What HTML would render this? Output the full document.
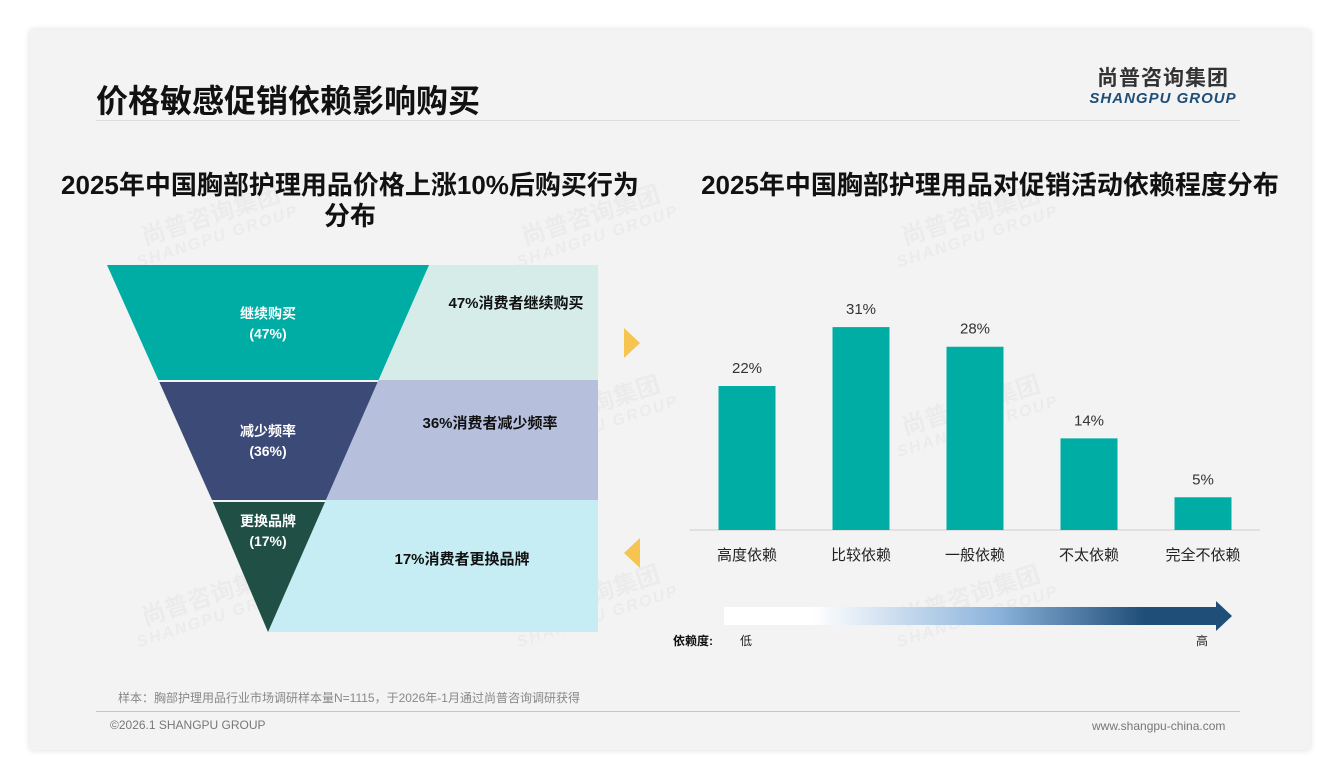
<!DOCTYPE html>
<html><head><meta charset="utf-8"><style>
body{margin:0;width:1340px;height:780px;background:#fff;font-family:"Liberation Sans","Noto Sans CJK SC",sans-serif;overflow:hidden}
#card{position:absolute;left:30px;top:30px;width:1280px;height:720px;background:#f3f3f3;box-shadow:0 0 6px rgba(0,0,0,.15)}
.abs{position:absolute}
.wm{position:absolute;color:rgba(0,0,0,.03);font-weight:bold;transform:rotate(-18deg);font-size:24px;line-height:22px;text-align:center}
.wm span{display:block;font-size:16px;font-style:italic;letter-spacing:2px}
</style></head><body>
<div id="card"></div>
<div class="abs" style="left:96px;top:76px;font-size:32px;font-weight:bold;color:#111">价格敏感促销依赖影响购买</div>
<div class="abs" style="left:96px;top:120px;width:1144px;height:1px;background:#ddd"></div>
<div class="abs" style="left:1084px;top:62px;width:158px;text-align:center;color:#333">
 <div style="font-size:21px;font-weight:bold;letter-spacing:1px">尚普咨询集团</div>
 <div style="font-size:15px;font-weight:bold;font-style:italic;color:#1f4e79;letter-spacing:1px;margin-top:-2px">SHANGPU GROUP</div>
</div>
<div class="wm" style="left:130px;top:205px">尚普咨询集团<span>SHANGPU GROUP</span></div>
<div class="wm" style="left:510px;top:205px">尚普咨询集团<span>SHANGPU GROUP</span></div>
<div class="wm" style="left:890px;top:205px">尚普咨询集团<span>SHANGPU GROUP</span></div>
<div class="wm" style="left:510px;top:395px">尚普咨询集团<span>SHANGPU GROUP</span></div>
<div class="wm" style="left:890px;top:395px">尚普咨询集团<span>SHANGPU GROUP</span></div>
<div class="wm" style="left:130px;top:585px">尚普咨询集团<span>SHANGPU GROUP</span></div>
<div class="wm" style="left:510px;top:585px">尚普咨询集团<span>SHANGPU GROUP</span></div>
<div class="wm" style="left:890px;top:585px">尚普咨询集团<span>SHANGPU GROUP</span></div>

<div class="abs" style="left:30px;top:170px;width:640px;text-align:center;font-size:26px;font-weight:bold;line-height:31px;color:#111">2025年中国胸部护理用品价格上涨10%后购买行为<br>分布</div>
<div class="abs" style="left:670px;top:170px;width:640px;text-align:center;font-size:26px;font-weight:bold;line-height:31px;color:#111">2025年中国胸部护理用品对促销活动依赖程度分布</div>

<svg class="abs" style="left:0;top:0" width="1340" height="780">
<defs><linearGradient id="g" x1="0" x2="1"><stop offset="0.18" stop-color="#fff"/><stop offset="0.55" stop-color="#8db4dc"/><stop offset="0.85" stop-color="#1f4e79"/></linearGradient></defs>
<g id="funnel"></g>
<polygon points="624,328 640,343 624,358" fill="#f5c451"/>
<polygon points="640,538 624,553 640,568" fill="#f5c451"/>
<g id="bars"></g>
<rect x="724" y="607" width="494" height="18" fill="url(#g)"/>
<polygon points="1216,601 1232,616 1216,631" fill="#1f4e79"/>
<text x="673" y="645" font-size="12" font-weight="bold" fill="#111">依赖度:</text>
<text x="740" y="645" font-size="12" fill="#222">低</text>
<text x="1196" y="645" font-size="12" fill="#222">高</text>
</svg>
<div class="abs" style="left:118px;top:689px;font-size:12px;color:#888">样本：胸部护理用品行业市场调研样本量N=1115，于2026年-1月通过尚普咨询调研获得</div>
<div class="abs" style="left:96px;top:711px;width:1144px;height:1px;background:#b8c8d8"></div>
<div class="abs" style="left:110px;top:718px;font-size:12px;color:#777">©2026.1 SHANGPU GROUP</div>
<div class="abs" style="left:1092px;top:719px;font-size:12px;color:#777">www.shangpu-china.com</div>
<script>
const funnelLabels=["继续购买","减少频率","更换品牌"];
const funnelValues=[47,36,17];
const funnelNotes=["消费者继续购买","消费者减少频率","消费者更换品牌"];
const cats=["高度依赖","比较依赖","一般依赖","不太依赖","完全不依赖"];
const vals=[22,31,28,14,5];

const NS="http://www.w3.org/2000/svg";
function mk(t,a,p){const e=document.createElementNS(NS,t);for(const k in a)e.setAttribute(k,a[k]);p.appendChild(e);return e;}
const F=document.getElementById('funnel');
const fTop=265,fBot=632,bandY=[265,380,500,632],lx0=104,rx0=429,apx=268,panelR=598;
const fc=["#00ada5","#3c4a78","#1f4f45"],pc=["#d5ece8","#b6bfdc","#c7edf4"];
function L(y){return lx0+(apx-lx0)*(y-fTop)/(fBot-fTop);}
function R(y){return rx0+(apx-rx0)*(y-fTop)/(fBot-fTop);}
for(let i=0;i<3;i++){
 const y0=bandY[i],y1=bandY[i+1];
 const p=mk('polygon',{points:`${R(y0)},${y0} ${panelR},${y0} ${panelR},${y1} ${R(y1)},${y1}`,fill:pc[i]},F);
 
 
 const g=i===0?0:2;
 const s=mk('polygon',{points:`${L(y0+g)+3},${y0+g} ${R(y0+g)},${y0+g} ${R(y1)},${y1} ${L(y1)+(i<2?3:0)},${y1}`,fill:fc[i]},F);
 
 
 const cx=apx, cy=i<2?(y0+y1)/2:y0+30;
 const t1=mk('text',{x:cx,y:cy-4,'text-anchor':'middle','font-size':14,'font-weight':'bold',fill:'#fff'},F);t1.textContent=funnelLabels[i];
 
 
 const t2=mk('text',{x:cx,y:cy+16,'text-anchor':'middle','font-size':14,'font-weight':'bold',fill:'#fff'},F);t2.textContent='('+funnelValues[i]+'%)';
 
 
 const nx=[516,490,462][i],ny=[308,428,564][i];
 const t3=mk('text',{x:nx,y:ny,'text-anchor':'middle','font-size':15,'font-weight':'bold',fill:'#111'},F);t3.textContent=funnelValues[i]+'%'+funnelNotes[i];
 
 
}
const B=document.getElementById('bars');
const base=530,ppu=6.545,x0=690,x1=1260,bw=57;
const step=(x1-x0)/cats.length;
const ax=mk('line',{x1:x0,x2:x1,y1:base,y2:base,stroke:'#ccc'},B);


cats.forEach((c,i)=>{
 const cx=x0+step*(i+0.5),h=vals[i]*ppu;
 const r=mk('rect',{x:cx-bw/2,y:base-h,width:bw,height:h,fill:'#00ada5'},B);
 
 
 const v=mk('text',{x:cx,y:base-h-13,'text-anchor':'middle','font-size':15,fill:'#333'},B);v.textContent=vals[i]+'%';
 
 
 const l=mk('text',{x:cx,y:base+30,'text-anchor':'middle','font-size':15,fill:'#222'},B);l.textContent=c;
 
 
});
</script>
</body></html>
